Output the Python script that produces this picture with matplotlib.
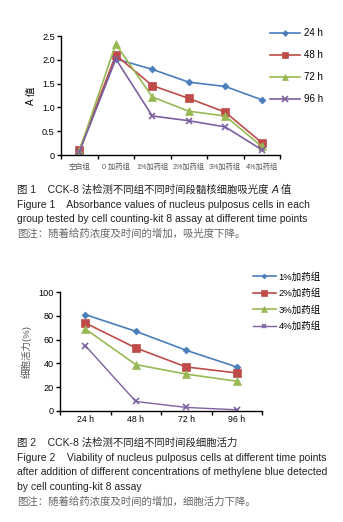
import matplotlib.pyplot as plt

plt.rcParams['font.family'] = ['Liberation Sans', 'Noto Sans CJK SC']

# Figure 1: absorbance (A value) by group and time
groups = ["空白组", "0 加药组", "1%加药组", "2%加药组", "3%加药组", "4%加药组"]
times = ["24 h", "48 h", "72 h", "96 h"]
a_24h = [0.08, 2.02, 1.80, 1.53, 1.44, 1.16]
a_48h = [0.10, 2.10, 1.46, 1.19, 0.90, 0.26]
a_72h = [0.08, 2.33, 1.22, 0.92, 0.82, 0.18]
a_96h = [0.06, 2.02, 0.82, 0.72, 0.59, 0.11]

# Figure 2: viability (%) by dose and time
doses = ["1%加药组", "2%加药组", "3%加药组", "4%加药组"]
v_1 = [81, 67, 51, 37]
v_2 = [74, 53, 37, 32]
v_3 = [69, 39, 31, 25]
v_4 = [55, 8, 3, 1]

colors = ["#4a7ebb", "#be4b48", "#98b954", "#7d60a0"]
markers = ["D", "s", "^", "x"]
msizes = [3.5, 5.5, 5.5, 5]

W, H = 343, 522
fig = plt.figure(figsize=(W / 100, H / 100), dpi=100)


def px_axes(x0, y0, x1, y1):
    # pixel box (top-left origin) -> figure axes
    return fig.add_axes([x0 / W, 1 - y1 / H, (x1 - x0) / W, (y1 - y0) / H])


def style_axes(ax):
    for s in ["top", "right"]:
        ax.spines[s].set_visible(False)
    for s in ["left", "bottom"]:
        ax.spines[s].set_linewidth(1.0)
        ax.spines[s].set_color("black")
    ax.tick_params(axis="y", length=3, width=1, labelsize=6.6, pad=1.5)


# ---- chart 1 ----
ax1 = px_axes(61, 36, 280, 155)
style_axes(ax1)
series1 = [a_24h, a_48h, a_72h, a_96h]
x1 = list(range(len(groups)))
for vals, c, m, ms, lab in zip(series1, colors, markers, msizes, times):
    ax1.plot(x1, vals, color=c, marker=m, markersize=ms, lw=1.2,
             markeredgewidth=1.2 if m == "x" else 0.5, label=lab)
ax1.set_xlim(-0.5, len(groups) - 0.5)
ax1.set_ylim(0, 2.5)
ax1.set_yticks([0, 0.5, 1.0, 1.5, 2.0, 2.5])
ax1.set_yticklabels(["0", "0.5", "1.0", "1.5", "2.0", "2.5"])
ax1.set_xticks([i - 0.5 for i in range(len(groups) + 1)])
ax1.set_xticklabels([])
ax1.tick_params(axis="x", which="major", length=3, width=1)
ax1.set_xticks(x1, minor=True)
ax1.set_xticklabels(groups, minor=True, fontsize=5.2, color="#555555")
ax1.tick_params(axis="x", which="minor", length=0, pad=6)
ax1.set_ylabel("A 值", fontsize=7, labelpad=4)
ax1.legend(loc="upper left", bbox_to_anchor=(270 / W, 1 - 28 / H),
           bbox_transform=fig.transFigure, frameon=False, fontsize=7,
           handlelength=3.1, labelspacing=1.25, handletextpad=0.4,
           borderaxespad=0, borderpad=0, markerscale=0.85)

# ---- chart 2 ----
ax2 = px_axes(60, 292, 262, 411)
style_axes(ax2)
series2 = [v_1, v_2, v_3, v_4]
x2 = list(range(len(times)))
lws2 = [1.2, 1.2, 1.2, 1.0]
for vals, c, m, ms, lw, lab in zip(series2, colors, markers, msizes, lws2, doses):
    ax2.plot(x2, vals, color=c, marker=m, markersize=ms, lw=lw,
             markeredgewidth=1.2 if m == "x" else 0.5, label=lab)
ax2.set_xlim(-0.5, len(times) - 0.5)
ax2.set_ylim(0, 100)
ax2.set_yticks([0, 20, 40, 60, 80, 100])
ax2.set_xticks([i - 0.5 for i in range(len(times) + 1)])
ax2.set_xticklabels([])
ax2.tick_params(axis="x", which="major", length=3, width=1)
ax2.set_xticks(x2, minor=True)
ax2.set_xticklabels(times, minor=True, fontsize=6.3)
ax2.tick_params(axis="x", which="minor", length=0, pad=3)
ax2.set_ylabel("细胞活力(%)", fontsize=6.8, color="#555555", labelpad=5)
ax2.legend(loc="upper left", bbox_to_anchor=(253 / W, 1 - 272 / H),
           bbox_transform=fig.transFigure, frameon=False, fontsize=6.8,
           handlelength=2.4, labelspacing=0.72, handletextpad=0.3,
           borderaxespad=0, borderpad=0, markerscale=0.7)

# ---- captions ----
cap1 = [
    ("图 1    CCK-8 法检测不同组不同时间段髓核细胞吸光度 ", "#222222"),
    ("Figure 1    Absorbance values of nucleus pulposus cells in each", "#222222"),
    ("group tested by cell counting-kit 8 assay at different time points", "#222222"),
    ("图注：随着给药浓度及时间的增加，吸光度下降。", "#666666"),
]
cap2 = [
    ("图 2    CCK-8 法检测不同组不同时间段细胞活力", "#222222"),
    ("Figure 2    Viability of nucleus pulposus cells at different time points", "#222222"),
    ("after addition of different concentrations of methylene blue detected", "#222222"),
    ("by cell counting-kit 8 assay", "#222222"),
    ("图注：随着给药浓度及时间的增加，细胞活力下降。", "#666666"),
]
cap_fs = 7.5
first_line = None
for ytop, lines in [(190, cap1), (443, cap2)]:
    for i, (txt, col) in enumerate(lines):
        t = fig.text(17 / W, 1 - (ytop + 14.7 * i) / H, txt, fontsize=cap_fs,
                     color=col, va="center", ha="left")
        if first_line is None:
            first_line = t

# italic A after the first caption line
renderer = fig.canvas.get_renderer()
bb = first_line.get_window_extent(renderer)
ya = first_line.get_position()[1]
ta = fig.text(bb.x1 / W, ya, "A", fontsize=cap_fs, style="italic",
              color="#222222", va="center", ha="left")
bb2 = ta.get_window_extent(renderer)
fig.text(bb2.x1 / W, ya, " 值", fontsize=cap_fs, color="#222222",
         va="center", ha="left")

fig.savefig("out.png", dpi=100)
